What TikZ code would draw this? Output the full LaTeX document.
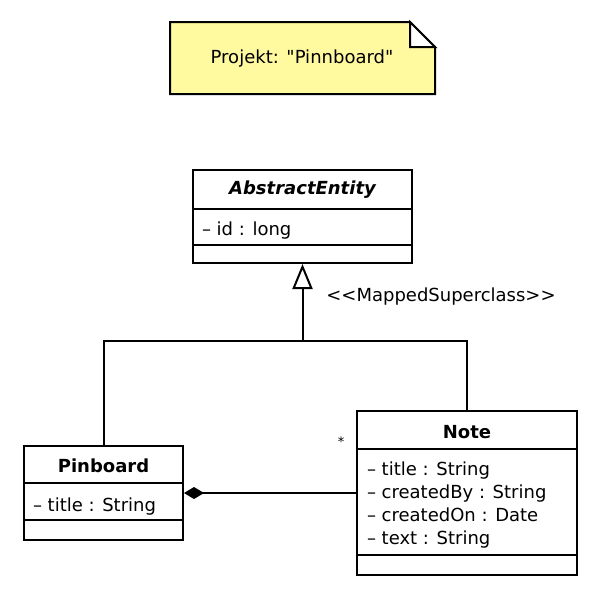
\documentclass[tikz,border=0pt]{standalone}
\usepackage{fontspec}
\newfontfamily\umlfont{DejaVu Sans}
\usetikzlibrary{positioning, arrows.meta}

\definecolor{memoyellow}{RGB}{255,250,160}

\begin{document}
\begin{tikzpicture}[
x=1pt, y=-1pt,
font=\umlfont\fontsize{18}{23}\selectfont,
line width=2pt,
cls/.style={rectangle, draw, inner sep=0pt},
title/.style={font=\umlfont\fontsize{18}{23}\selectfont\bfseries},
attr/.style={anchor=west, align=left, inner sep=0pt},
gen/.style={-{Triangle[open, length=25pt, width=20pt]}},
comp/.style={{Diamond[length=20pt, width=12pt]}-}
]
\useasboundingbox (0,0) rectangle (601,600);

% --- Notiz ---
\draw[fill=memoyellow] (170,22) -- (410,22) -- (435,47) -- (435,94) -- (170,94) -- cycle;
\draw[fill=white] (410,22) -- (410,47) -- (435,47) -- cycle;
\node (memo) at (302,59) {Projekt: "Pinnboard"};

% --- Oberklasse ---
\node[cls, minimum width=219pt, minimum height=93pt] (abstract) at (302.5,216.5) {};
\draw ([yshift=-40pt]abstract.north west) -- ([yshift=-40pt]abstract.north east);
\draw ([yshift=-76pt]abstract.north west) -- ([yshift=-76pt]abstract.north east);
\node[title, font=\umlfont\fontsize{18}{23}\selectfont\bfseries\itshape] (abstracttitle) at (302.5,190) {AbstractEntity};
\node[attr] (abstractattr) at (201,231) {\textendash\ id : long};

% --- Pinboard ---
\node[cls, minimum width=159pt, minimum height=94pt] (pinboard) at (103.5,493) {};
\draw ([yshift=-38pt]pinboard.north west) -- ([yshift=-38pt]pinboard.north east);
\draw ([yshift=-75pt]pinboard.north west) -- ([yshift=-75pt]pinboard.north east);
\node[title] (pinboardtitle) at (103.5,466) {Pinboard};
\node[attr] (pinboardattr) at (32,507) {\textendash\ title : String};

% --- Note ---
\node[cls, minimum width=220pt, minimum height=164pt] (note) at (467,493) {};
\draw ([yshift=-39pt]note.north west) -- ([yshift=-39pt]note.north east);
\draw ([yshift=-145pt]note.north west) -- ([yshift=-145pt]note.north east);
\node[title] (notetitle) at (467,432) {Note};
\node[attr] (noteattr) at (366,505) {\textendash\ title : String\\
  \textendash\ createdBy : String\\
  \textendash\ createdOn : Date\\
  \textendash\ text : String};

% --- Vererbung ---
\coordinate (hub) at (302.5,341);
\draw (pinboard.north) |- (hub) -| (note.north);
\draw[gen] (hub) -- (abstract.south);
\node[anchor=west] (stereo) at (322,297) {<<MappedSuperclass>>};

% --- Komposition ---
\draw[comp] (pinboard.east) -- (pinboard.east -| note.west);
\node[font=\umlfont\fontsize{13}{15}\selectfont] (mult) at (341,442) {*};

\end{tikzpicture}
\end{document}
